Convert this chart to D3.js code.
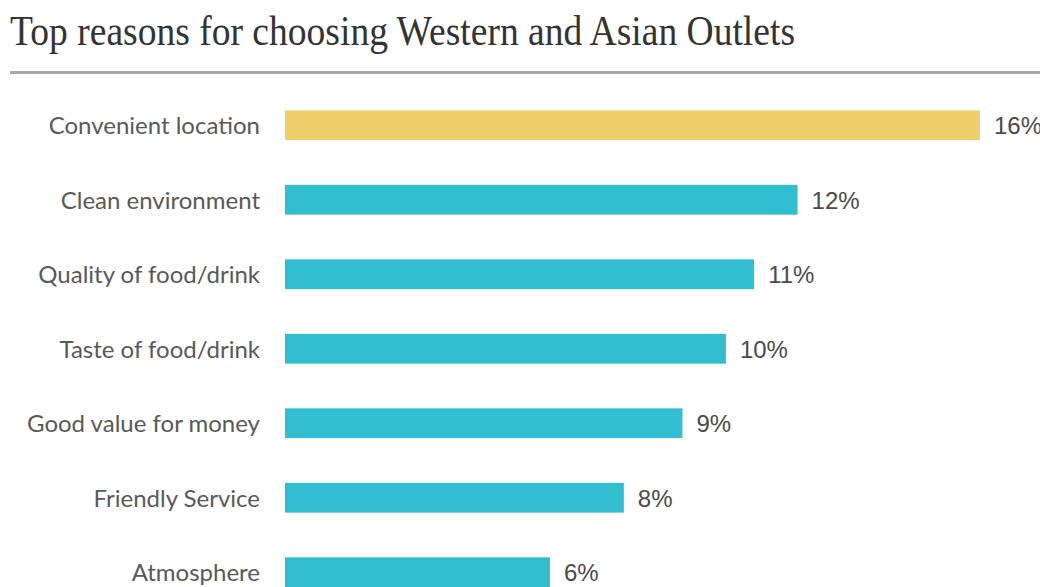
<!DOCTYPE html>
<html>
<head>
<meta charset="utf-8">
<script src="https://cdn.jsdelivr.net/npm/d3@7"></script>
<style>
    body { margin: 0; background: #fff; }
</style>
</head>
<body>
<svg id="chart" width="1040" height="587"></svg>
<script>
const title = "Top reasons for choosing Western and Asian Outlets";

const reasons = [
    "Convenient location",
    "Clean environment",
    "Quality of food/drink",
    "Taste of food/drink",
    "Good value for money",
    "Friendly Service",
    "Atmosphere"
];

// bar lengths (percent)
const values = [16, 11.8, 10.8, 10.15, 9.15, 7.8, 6.1];

// labels printed next to the bars
const valueLabels = ["16%", "12%", "11%", "10%", "9%", "8%", "6%"];

const highlight = "#efcf6a";
const barColor = "#31bed0";

const svg = d3.select("#chart");

// title
svg.append("text")
    .attr("x", 10)
    .attr("y", 45)
    .attr("font-family", "Liberation Serif, serif")
    .attr("font-size", "42px")
    .attr("fill", "#333")
    .attr("textLength", 785)
    .attr("lengthAdjust", "spacingAndGlyphs")
    .text(title);

// rule under the title
svg.append("line")
    .attr("x1", 10)
    .attr("x2", 1040)
    .attr("y1", 72.5)
    .attr("y2", 72.5)
    .attr("stroke", "#a8a8a8")
    .attr("stroke-width", 3);

const x = d3.scaleLinear()
    .domain([0, 16])
    .range([285, 980]);

const y = d3.scaleBand()
    .domain(reasons)
    .range([88, 88 + 7 * 74.5])
    .paddingInner(0.6)
    .paddingOuter(0.3);

const rows = svg.selectAll("g.row")
    .data(reasons)
    .enter()
    .append("g")
    .attr("class", "row");

// bars
rows.append("rect")
    .attr("x", x(0))
    .attr("y", d => y(d))
    .attr("width", (d, i) => x(values[i]) - x(0))
    .attr("height", y.bandwidth())
    .attr("fill", (d, i) => i == 0 ? highlight : barColor);

// category labels
rows.append("text")
    .attr("x", 260)
    .attr("y", d => y(d) + y.bandwidth() / 2)
    .attr("dy", "0.38em")
    .attr("text-anchor", "end")
    .attr("font-family", "Lato, sans-serif")
    .attr("font-size", "24px")
    .attr("fill", "#595959")
    .text(d => d);

// value labels
rows.append("text")
    .attr("x", (d, i) => x(values[i]) + 14)
    .attr("y", d => y(d) + y.bandwidth() / 2)
    .attr("dy", "0.38em")
    .attr("font-family", "Liberation Sans, Arial, sans-serif")
    .attr("font-size", "24px")
    .attr("fill", "#4a4a4a")
    .text((d, i) => valueLabels[i]);
</script>
</body>
</html>
